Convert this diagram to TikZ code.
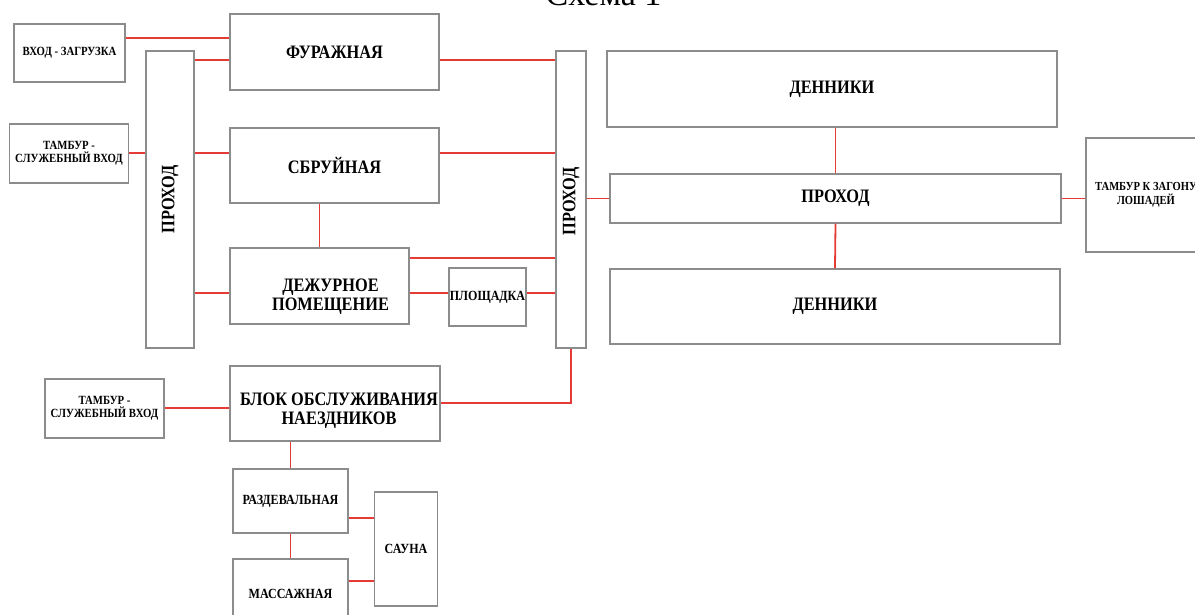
\documentclass[tikz,border=0pt]{standalone}
\usepackage{fontspec}
\setmainfont{Liberation Serif}
\newfontfamily\roomfont[FakeStretch=0.86]{Liberation Serif}
\definecolor{wallgray}{HTML}{8C8C8C}
\definecolor{linkred}{HTML}{E53B35}
\begin{document}
\begin{tikzpicture}[x=1pt,y=-1pt,
    room/.style={draw=wallgray, line width=1.5pt, inner sep=0pt, align=center,
      font=\roomfont\fontsize{19}{20}\bfseries},
    dims/.style 2 args={minimum width=#1pt, minimum height=#2pt},
    small/.style={font=\roomfont\fontsize{12.5}{13}\bfseries},
    mid/.style={font=\roomfont\fontsize{14}{15}\bfseries},
    biglbl/.style={align=center, font=\roomfont\fontsize{19}{19}\bfseries},
    vlbl/.style={rotate=90, font=\roomfont\fontsize{19}{20}\bfseries},
    link/.style={draw=linkred, line width=1.8pt}]
  \useasboundingbox (0,0) rectangle (1195,615);
  \clip (0,0) rectangle (1195,615);

  \node[anchor=base, font=\fontsize{34}{34}\selectfont] (title) at (603.5,6) {Схема 1};

  \node[room, small, dims={111}{58}] (entry) at (69.5,53) {ВХОД - ЗАГРУЗКА};
  \node[room, dims={209}{76}] (feed) at (334.5,52) {ФУРАЖНАЯ};
  \node[room, dims={48}{297}, label={[vlbl]center:ПРОХОД}] (hallA) at (170,199.5) {};
  \node[room, small, dims={119}{59}] (vestA) at (69,153.5) {ТАМБУР -\\СЛУЖЕБНЫЙ ВХОД};
  \node[room, dims={209}{75}] (harness) at (334.5,165.5) {СБРУЙНАЯ};
  \node[room, dims={179}{76}, label={[biglbl, xshift=11pt, yshift=-10.5pt]center:ДЕЖУРНОЕ\\ПОМЕЩЕНИЕ}] (duty) at (319.5,286) {};
  \node[room, mid, dims={77}{58}] (pad) at (487.5,297) {ПЛОЩАДКА};
  \node[room, dims={30}{297}, label={[vlbl, xshift=-2pt]center:ПРОХОД}] (hallB) at (571,199.5) {};
  \node[room, dims={450}{76}] (stallsA) at (832,89) {ДЕННИКИ};
  \node[room, dims={451}{49}] (hallC) at (835.5,198.5) {ПРОХОД};
  \node[room, dims={450}{75}] (stallsB) at (835,306.5) {ДЕННИКИ};
  \node[room, font=\roomfont\fontsize{12.3}{14}\bfseries, dims={120}{114}] (vestC) at (1146,195) {ТАМБУР К ЗАГОНУ\\ЛОШАДЕЙ};
  \node[room, small, dims={119}{59}] (vestB) at (104.5,408.5) {ТАМБУР -\\СЛУЖЕБНЫЙ ВХОД};
  \node[room, dims={210}{75}, label={[biglbl, xshift=4pt, yshift=-7.5pt]center:БЛОК ОБСЛУЖИВАНИЯ\\НАЕЗДНИКОВ}] (riders) at (335,403.5) {};
  \node[room, mid, dims={115}{64}] (changing) at (290.5,501) {РАЗДЕВАЛЬНАЯ};
  \node[room, mid, dims={63}{114}] (sauna) at (406,549) {САУНА};
  \node[room, mid, dims={115}{70}] (massage) at (290.5,594) {МАССАЖНАЯ};

  \begin{scope}[link]
    \draw (entry.east |- 0,38) -- (feed.west |- 0,38);
    \draw (hallA.east |- 0,60) -- (feed.west |- 0,60);
    \draw (feed.east |- 0,60) -- (hallB.west |- 0,60);
    \draw (vestA.east |- 0,153) -- (hallA.west |- 0,153);
    \draw (hallA.east |- 0,153) -- (harness.west |- 0,153);
    \draw (harness.east |- 0,153) -- (hallB.west |- 0,153);
    \draw (harness.south -| duty) -- (duty.north);
    \draw (duty.east |- 0,258) -- (hallB.west |- 0,258);
    \draw (hallA.east |- 0,293) -- (duty.west |- 0,293);
    \draw (duty.east |- 0,293) -- (pad.west |- 0,293);
    \draw (pad.east |- 0,293) -- (hallB.west |- 0,293);
    \draw (hallB.east |- hallC) -- (hallC.west);
    \draw (hallC.north) -- (hallC.north |- stallsA.south);
    \draw (hallC.south) -- (stallsB.north);
    \draw (hallC.east) -- (vestC.west |- hallC);
    \draw (hallB.south) -- (hallB.south |- 0,403) -- (riders.east |- 0,403);
    \draw (vestB.east |- 0,408) -- (riders.west |- 0,408);
    \draw (riders.south -| changing) -- (changing.north);
    \draw (changing.south) -- (massage.north);
    \draw (changing.east |- 0,518) -- (sauna.west |- 0,518);
    \draw (massage.east |- 0,581) -- (sauna.west |- 0,581);
  \end{scope}
\end{tikzpicture}
\end{document}
